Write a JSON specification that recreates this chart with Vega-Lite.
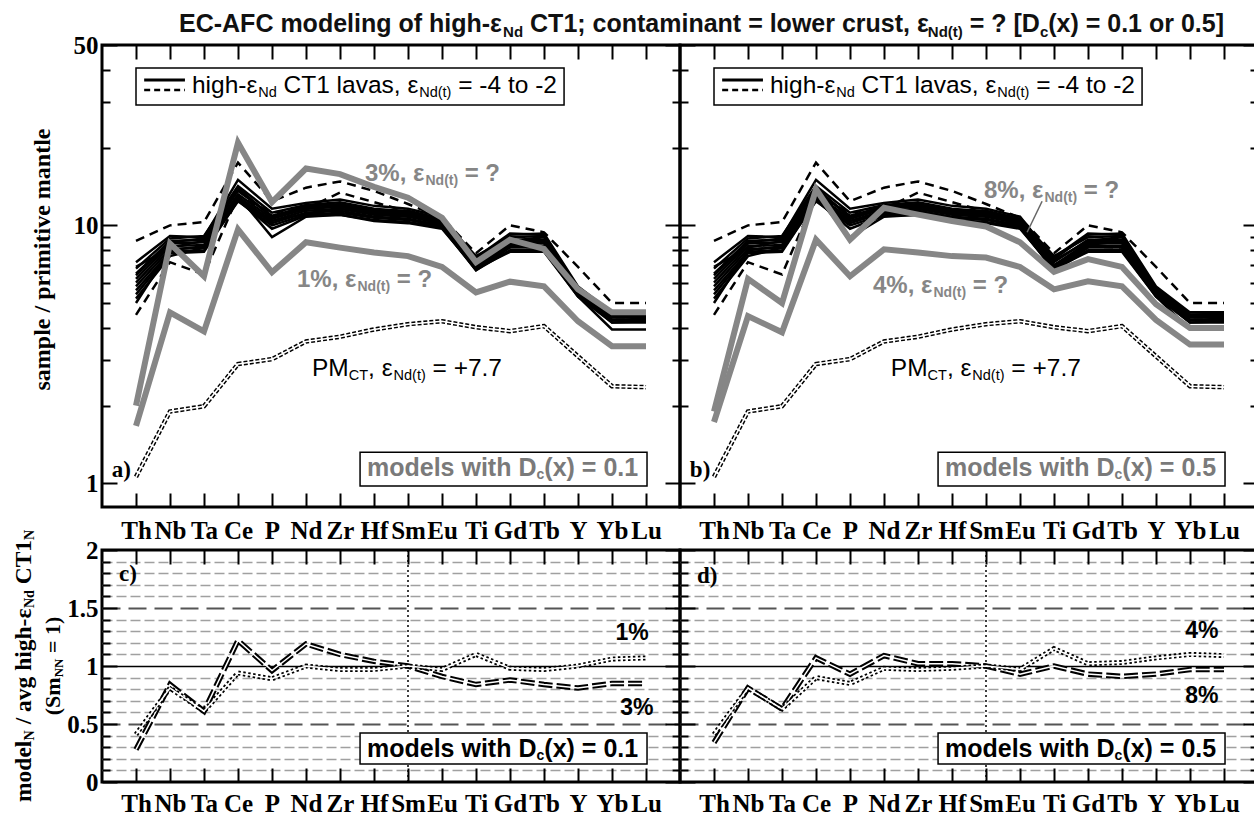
{
"$schema": "https://vega.github.io/schema/vega-lite/v6.json",
"background": "white",
"padding": {"left": 10, "top": 10, "right": 0, "bottom": 0},
"bounds": "flush",
"columns": 2,
"spacing": {"row": 43, "column": 0},
"datasets": {
"lav": [
{"s":"L1","Th":7.2,"Nb":9.1,"Ta":9.0,"Ce":15.0,"P":11.6,"Nd":12.2,"Zr":12.6,"Hf":11.9,"Sm":11.6,"Eu":10.8,"Ti":7.4,"Gd":9.2,"Tb":9.3,"Y":5.8,"Yb":4.6,"Lu":4.6},
{"s":"L2","Th":6.8,"Nb":8.9,"Ta":9.1,"Ce":14.2,"P":11.2,"Nd":12.0,"Zr":12.3,"Hf":11.6,"Sm":11.3,"Eu":10.6,"Ti":7.6,"Gd":9.0,"Tb":9.1,"Y":5.7,"Yb":4.5,"Lu":4.5},
{"s":"L3","Th":6.5,"Nb":8.7,"Ta":8.8,"Ce":13.6,"P":10.9,"Nd":11.8,"Zr":12.1,"Hf":11.4,"Sm":11.1,"Eu":10.4,"Ti":7.2,"Gd":8.8,"Tb":8.8,"Y":5.6,"Yb":4.4,"Lu":4.45},
{"s":"L4","Th":6.2,"Nb":8.5,"Ta":8.6,"Ce":13.2,"P":10.6,"Nd":11.6,"Zr":11.8,"Hf":11.2,"Sm":11.0,"Eu":10.3,"Ti":7.0,"Gd":8.6,"Tb":8.6,"Y":5.5,"Yb":4.4,"Lu":4.4},
{"s":"L5","Th":6.0,"Nb":8.3,"Ta":8.4,"Ce":12.9,"P":10.4,"Nd":11.4,"Zr":11.6,"Hf":11.0,"Sm":10.8,"Eu":10.2,"Ti":6.9,"Gd":8.5,"Tb":8.5,"Y":5.5,"Yb":4.3,"Lu":4.35},
{"s":"L6","Th":5.8,"Nb":8.1,"Ta":8.2,"Ce":12.6,"P":10.2,"Nd":11.2,"Zr":11.4,"Hf":10.8,"Sm":10.6,"Eu":10.0,"Ti":6.8,"Gd":8.3,"Tb":8.3,"Y":5.4,"Yb":4.3,"Lu":4.3},
{"s":"L7","Th":5.6,"Nb":7.9,"Ta":8.0,"Ce":12.4,"P":10.0,"Nd":11.0,"Zr":11.2,"Hf":10.7,"Sm":10.5,"Eu":9.9,"Ti":6.7,"Gd":8.2,"Tb":8.2,"Y":5.4,"Yb":4.2,"Lu":4.25},
{"s":"L8","Th":5.4,"Nb":7.8,"Ta":7.9,"Ce":12.5,"P":9.7,"Nd":10.9,"Zr":11.0,"Hf":10.5,"Sm":10.3,"Eu":9.8,"Ti":6.7,"Gd":8.0,"Tb":8.0,"Y":5.3,"Yb":4.2,"Lu":4.2},
{"s":"L9","Th":5.2,"Nb":7.6,"Ta":8.2,"Ce":13.0,"P":9.0,"Nd":10.8,"Zr":11.0,"Hf":10.4,"Sm":10.2,"Eu":9.7,"Ti":6.8,"Gd":7.9,"Tb":7.9,"Y":5.3,"Yb":3.95,"Lu":3.95},
{"s":"L10","Th":6.9,"Nb":8.2,"Ta":8.7,"Ce":14.0,"P":10.7,"Nd":11.9,"Zr":12.0,"Hf":11.3,"Sm":11.2,"Eu":10.5,"Ti":7.3,"Gd":8.7,"Tb":9.0,"Y":5.6,"Yb":4.5,"Lu":4.5},
{"s":"L11","Th":5.0,"Nb":8.0,"Ta":8.3,"Ce":12.8,"P":10.4,"Nd":11.1,"Zr":11.6,"Hf":11.1,"Sm":10.9,"Eu":10.1,"Ti":7.0,"Gd":8.4,"Tb":8.7,"Y":5.5,"Yb":4.4,"Lu":4.4},
{"s":"L12","Th":6.4,"Nb":8.6,"Ta":8.9,"Ce":13.8,"P":10.8,"Nd":11.6,"Zr":11.9,"Hf":11.5,"Sm":11.4,"Eu":10.6,"Ti":7.5,"Gd":9.3,"Tb":9.2,"Y":5.7,"Yb":4.5,"Lu":4.55}
],
"dsh": [
{"s":"D1","Th":8.7,"Nb":10.0,"Ta":10.3,"Ce":17.5,"P":12.4,"Nd":14.0,"Zr":14.8,"Hf":13.6,"Sm":12.1,"Eu":10.7,"Ti":7.8,"Gd":10.0,"Tb":9.4,"Y":6.9,"Yb":5.0,"Lu":5.0},
{"s":"D2","Th":4.5,"Nb":7.2,"Ta":6.45,"Ce":13.0,"P":11.2,"Nd":11.6,"Zr":13.4,"Hf":12.3,"Sm":11.3,"Eu":10.2,"Ti":7.0,"Gd":8.3,"Tb":8.2,"Y":5.5,"Yb":4.4,"Lu":4.4}
],
"pm": [
{"s":"PM","Th":1.06,"Nb":1.9,"Ta":1.99,"Ce":2.9,"P":3.03,"Nd":3.55,"Zr":3.7,"Hf":3.95,"Sm":4.14,"Eu":4.25,"Ti":4.03,"Gd":3.89,"Tb":4.07,"Y":3.11,"Yb":2.38,"Lu":2.36}
],
"mod": [
{"s":"G3","Th":2.0,"Nb":8.5,"Ta":6.35,"Ce":20.9,"P":12.3,"Nd":16.6,"Zr":15.8,"Hf":14.1,"Sm":12.8,"Eu":10.7,"Ti":7.2,"Gd":8.8,"Tb":8.1,"Y":5.65,"Yb":4.6,"Lu":4.6},
{"s":"G1","Th":1.67,"Nb":4.6,"Ta":3.88,"Ce":9.65,"P":6.58,"Nd":8.6,"Zr":8.2,"Hf":7.85,"Sm":7.6,"Eu":6.9,"Ti":5.5,"Gd":6.05,"Tb":5.8,"Y":4.25,"Yb":3.4,"Lu":3.4},
{"s":"G8","Th":1.9,"Nb":6.2,"Ta":5.0,"Ce":13.8,"P":8.8,"Nd":11.7,"Zr":11.0,"Hf":10.4,"Sm":9.9,"Eu":8.6,"Ti":6.6,"Gd":7.4,"Tb":6.9,"Y":4.95,"Yb":4.0,"Lu":4.0},
{"s":"G4","Th":1.73,"Nb":4.45,"Ta":3.85,"Ce":8.8,"P":6.35,"Nd":8.07,"Zr":7.85,"Hf":7.6,"Sm":7.5,"Eu":6.9,"Ti":5.65,"Gd":6.07,"Tb":5.8,"Y":4.3,"Yb":3.45,"Lu":3.45}
],
"rat": [
{"s":"C3","Th":0.28,"Nb":0.84,"Ta":0.61,"Ce":1.22,"P":0.96,"Nd":1.19,"Zr":1.10,"Hf":1.04,"Sm":1.0,"Eu":0.91,"Ti":0.84,"Gd":0.88,"Tb":0.84,"Y":0.81,"Yb":0.85,"Lu":0.85},
{"s":"C1","Th":0.41,"Nb":0.81,"Ta":0.61,"Ce":0.94,"P":0.89,"Nd":1.0,"Zr":0.97,"Hf":0.97,"Sm":1.0,"Eu":0.97,"Ti":1.10,"Gd":0.98,"Tb":0.97,"Y":1.0,"Yb":1.06,"Lu":1.07},
{"s":"D8","Th":0.34,"Nb":0.81,"Ta":0.63,"Ce":1.07,"P":0.93,"Nd":1.09,"Zr":1.02,"Hf":1.02,"Sm":1.0,"Eu":0.93,"Ti":1.0,"Gd":0.93,"Tb":0.91,"Y":0.93,"Yb":0.97,"Lu":0.97},
{"s":"D4","Th":0.41,"Nb":0.81,"Ta":0.63,"Ce":0.9,"P":0.85,"Nd":0.98,"Zr":0.97,"Hf":0.98,"Sm":1.0,"Eu":0.97,"Ti":1.15,"Gd":1.02,"Tb":1.03,"Y":1.07,"Yb":1.10,"Lu":1.09}
]
},
"concat": [
{
"width": 578, "height": 462,
"resolve": {"scale": {"x": "independent"}, "axis": {"x": "independent", "y": "independent"}},
"layer": [
{"data": {"values": [{"x":1.0,"x2":13.59,"v":40.7,"v2":29.3},{"x":7.59,"x2":16.03,"v":1.32,"v2":0.977}]},
 "mark": {"type":"rect","fill":"white","stroke":"black","strokeWidth":1.5},
 "encoding": {"x":{"field":"x","type":"quantitative","scale":{"domain":[0,17],"nice":false,"zero":false},"axis":null},"x2":{"field":"x2"},"y":{"field":"v","type":"quantitative","scale":{"type":"log","domain":[0.81,50],"nice":false},"axis":null},"y2":{"field":"v2"}}},
{"data": {"name":"pm"}, "transform": [{"fold":["Th","Nb","Ta","Ce","P","Nd","Zr","Hf","Sm","Eu","Ti","Gd","Tb","Y","Yb","Lu"],"as":["e","v"]}],
 "mark": {"type":"line","stroke":"black","strokeWidth":4.5,"strokeDash":[4,2]},
 "encoding": {"x":{"field":"e","type":"ordinal","scale":{"type":"point","domain":["Th","Nb","Ta","Ce","P","Nd","Zr","Hf","Sm","Eu","Ti","Gd","Tb","Y","Yb","Lu"],"padding":1},"axis":null},"y":{"field":"v","type":"quantitative","scale":{"type":"log","domain":[0.81,50],"nice":false},"axis":null},"order":{"value":null}}},
{"data": {"name":"pm"}, "transform": [{"fold":["Th","Nb","Ta","Ce","P","Nd","Zr","Hf","Sm","Eu","Ti","Gd","Tb","Y","Yb","Lu"],"as":["e","v"]}],
 "mark": {"type":"line","stroke":"white","strokeWidth":1.6},
 "encoding": {"x":{"field":"e","type":"ordinal","scale":{"type":"point","domain":["Th","Nb","Ta","Ce","P","Nd","Zr","Hf","Sm","Eu","Ti","Gd","Tb","Y","Yb","Lu"],"padding":1},"axis":null},"y":{"field":"v","type":"quantitative","scale":{"type":"log","domain":[0.81,50],"nice":false},"axis":null},"order":{"value":null}}},
{"data": {"name":"lav"}, "transform": [{"fold":["Th","Nb","Ta","Ce","P","Nd","Zr","Hf","Sm","Eu","Ti","Gd","Tb","Y","Yb","Lu"],"as":["e","v"]}],
 "mark": {"type":"line","stroke":"black","strokeWidth":2.5},
 "encoding": {"x":{"field":"e","type":"ordinal","scale":{"type":"point","domain":["Th","Nb","Ta","Ce","P","Nd","Zr","Hf","Sm","Eu","Ti","Gd","Tb","Y","Yb","Lu"],"padding":1},"axis":{"orient":"bottom","title":null,"tickSize":-14,"labelFontSize":25,"labelPadding":25,"labelAngle":0}},
  "y":{"field":"v","type":"quantitative","scale":{"type":"log","domain":[0.81,50],"nice":false},"axis":{"orient":"left","title":"sample / primitive mantle","values":[1,2,3,4,5,6,7,8,9,10,20,30,40,50],"tickSize":{"condition":{"test":"datum.value==1||datum.value==10||datum.value==50","value":-15},"value":-8},"labelExpr":"(datum.value==1||datum.value==10||datum.value==50)?''+datum.value:''","labelFontSize":25,"labelPadding":19,"titleFontSize":24,"titleX":-60,"titleY":214,"titleBaseline":"middle"}},
  "detail":{"field":"s"},"order":{"value":null}}},
{"data": {"name":"dsh"}, "transform": [{"fold":["Th","Nb","Ta","Ce","P","Nd","Zr","Hf","Sm","Eu","Ti","Gd","Tb","Y","Yb","Lu"],"as":["e","v"]}],
 "mark": {"type":"line","stroke":"black","strokeWidth":2.5,"strokeDash":[9,6]},
 "encoding": {"x":{"field":"e","type":"ordinal","scale":{"type":"point","domain":["Th","Nb","Ta","Ce","P","Nd","Zr","Hf","Sm","Eu","Ti","Gd","Tb","Y","Yb","Lu"],"padding":1},"axis":null},"y":{"field":"v","type":"quantitative","scale":{"type":"log","domain":[0.81,50],"nice":false},"axis":null},"detail":{"field":"s"},"order":{"value":null}}},
{"data": {"name":"mod"}, "transform": [{"filter":{"field":"s","oneOf":["G3","G1"]}},{"fold":["Th","Nb","Ta","Ce","P","Nd","Zr","Hf","Sm","Eu","Ti","Gd","Tb","Y","Yb","Lu"],"as":["e","v"]}],
 "mark": {"type":"line","stroke":"#868686","strokeWidth":6},
 "encoding": {"x":{"field":"e","type":"ordinal","scale":{"type":"point","domain":["Th","Nb","Ta","Ce","P","Nd","Zr","Hf","Sm","Eu","Ti","Gd","Tb","Y","Yb","Lu"],"padding":1},"axis":{"orient":"top","title":null,"tickSize":-14,"labels":false}},
  "y":{"field":"v","type":"quantitative","scale":{"type":"log","domain":[0.81,50],"nice":false},"axis":{"orient":"right","title":null,"values":[1,2,3,4,5,6,7,8,9,10,20,30,40,50],"tickSize":{"condition":{"test":"datum.value==1||datum.value==10||datum.value==50","value":-15},"value":-8},"labels":false}},
  "detail":{"field":"s"},"order":{"value":null}}},
{"data": {"values": [{"x":1.24,"v":36.6},{"x":2.44,"v":36.6}]},
 "mark": {"type":"line","stroke":"black","strokeWidth":3},
 "encoding": {"x":{"field":"x","type":"quantitative","scale":{"domain":[0,17],"nice":false,"zero":false},"axis":null},"y":{"field":"v","type":"quantitative","scale":{"type":"log","domain":[0.81,50],"nice":false},"axis":null}}},
{"data": {"values": [{"x":1.24,"v":33.5},{"x":2.44,"v":33.5}]},
 "mark": {"type":"line","stroke":"black","strokeWidth":2.5,"strokeDash":[6,4]},
 "encoding": {"x":{"field":"x","type":"quantitative","scale":{"domain":[0,17],"nice":false,"zero":false},"axis":null},"y":{"field":"v","type":"quantitative","scale":{"type":"log","domain":[0.81,50],"nice":false},"axis":null}}},
{"data": {"values": [{"t":"high-ε","x":2.647,"v":34.7},{"t":"CT1 lavas, ε","x":5.338,"v":34.7},{"t":"= -4 to -2","x":10.476,"v":34.7},{"t":"PM","x":6.176,"v":2.77},{"t":", ε","x":7.826,"v":2.77},{"t":"= +7.7","x":9.721,"v":2.77}]},
 "mark": {"type":"text","font":"Liberation Sans","fontSize":24.5,"align":"left","baseline":"middle","color":"black"},
 "encoding": {"x":{"field":"x","type":"quantitative","scale":{"domain":[0,17],"nice":false,"zero":false},"axis":null},"y":{"field":"v","type":"quantitative","scale":{"type":"log","domain":[0.81,50],"nice":false},"axis":null},"text":{"field":"t"}}},
{"data": {"values": [{"t":"Nd","x":4.594,"v":34.7},{"t":"Nd(t)","x":9.329,"v":34.7},{"t":"CT","x":7.257,"v":2.77},{"t":"Nd(t)","x":8.574,"v":2.77}]},
 "mark": {"type":"text","font":"Liberation Sans","fontSize":14.5,"align":"left","baseline":"middle","dy":7,"color":"black"},
 "encoding": {"x":{"field":"x","type":"quantitative","scale":{"domain":[0,17],"nice":false,"zero":false},"axis":null},"y":{"field":"v","type":"quantitative","scale":{"type":"log","domain":[0.81,50],"nice":false},"axis":null},"text":{"field":"t"}}},
{"data": {"values": [{"t":"3%, ε","x":7.735,"v":15.8},{"t":"= ?","x":10.666,"v":15.8},{"t":"1%, ε","x":5.735,"v":6.12},{"t":"= ?","x":8.669,"v":6.12}]},
 "mark": {"type":"text","font":"Liberation Sans","fontWeight":"bold","fontSize":24,"align":"left","baseline":"middle","color":"#868686"},
 "encoding": {"x":{"field":"x","type":"quantitative","scale":{"domain":[0,17],"nice":false,"zero":false},"axis":null},"y":{"field":"v","type":"quantitative","scale":{"type":"log","domain":[0.81,50],"nice":false},"axis":null},"text":{"field":"t"}}},
{"data": {"values": [{"t":"Nd(t)","x":9.515,"v":15.8},{"t":"Nd(t)","x":7.515,"v":6.12}]},
 "mark": {"type":"text","font":"Liberation Sans","fontWeight":"bold","fontSize":14,"align":"left","baseline":"middle","dy":7,"color":"#868686"},
 "encoding": {"x":{"field":"x","type":"quantitative","scale":{"domain":[0,17],"nice":false,"zero":false},"axis":null},"y":{"field":"v","type":"quantitative","scale":{"type":"log","domain":[0.81,50],"nice":false},"axis":null},"text":{"field":"t"}}},
{"data": {"values": [{"t":"models with D","x":7.794,"v":1.15},{"t":"(x) = 0.1","x":13.01,"v":1.15}]},
 "mark": {"type":"text","font":"Liberation Sans","fontWeight":"bold","fontSize":25,"align":"left","baseline":"middle","color":"#7a7a7a"},
 "encoding": {"x":{"field":"x","type":"quantitative","scale":{"domain":[0,17],"nice":false,"zero":false},"axis":null},"y":{"field":"v","type":"quantitative","scale":{"type":"log","domain":[0.81,50],"nice":false},"axis":null},"text":{"field":"t"}}},
{"data": {"values": [{"t":"c","x":12.78,"v":1.15}]},
 "mark": {"type":"text","font":"Liberation Sans","fontWeight":"bold","fontSize":14,"align":"left","baseline":"middle","dy":7,"color":"#7a7a7a"},
 "encoding": {"x":{"field":"x","type":"quantitative","scale":{"domain":[0,17],"nice":false,"zero":false},"axis":null},"y":{"field":"v","type":"quantitative","scale":{"type":"log","domain":[0.81,50],"nice":false},"axis":null},"text":{"field":"t"}}},
{"data": {"values": [{"t":"a)","x":0.29,"v":1.13}]},
 "mark": {"type":"text","font":"Liberation Serif","fontWeight":"bold","fontSize":23,"align":"left","baseline":"middle","color":"black"},
 "encoding": {"x":{"field":"x","type":"quantitative","scale":{"domain":[0,17],"nice":false,"zero":false},"axis":null},"y":{"field":"v","type":"quantitative","scale":{"type":"log","domain":[0.81,50],"nice":false},"axis":null},"text":{"field":"t"}}},
{"data": {"values": [{"t":"EC-AFC modeling of high-ε","x":2.265,"v":60.3},{"t":"CT1; contaminant = lower crust, ε","x":12.59,"v":60.3},{"t":"= ? [D","x":25.52,"v":60.3},{"t":"(x) = 0.1 or 0.5]","x":27.83,"v":60.3}]},
 "mark": {"type":"text","font":"Liberation Sans","fontWeight":"bold","fontSize":25,"align":"left","baseline":"middle","color":"#111"},
 "encoding": {"x":{"field":"x","type":"quantitative","scale":{"domain":[0,17],"nice":false,"zero":false},"axis":null},"y":{"field":"v","type":"quantitative","scale":{"type":"log","domain":[0.81,50],"nice":false},"axis":null},"text":{"field":"t"}}},
{"data": {"values": [{"t":"Nd","x":11.797,"v":60.3},{"t":"Nd(t)","x":24.29,"v":60.3},{"t":"c","x":27.586,"v":60.3}]},
 "mark": {"type":"text","font":"Liberation Sans","fontWeight":"bold","fontSize":15,"align":"left","baseline":"middle","dy":8,"color":"#111"},
 "encoding": {"x":{"field":"x","type":"quantitative","scale":{"domain":[0,17],"nice":false,"zero":false},"axis":null},"y":{"field":"v","type":"quantitative","scale":{"type":"log","domain":[0.81,50],"nice":false},"axis":null},"text":{"field":"t"}}}
]
},
{
"width": 578, "height": 462,
"resolve": {"scale": {"x": "independent"}, "axis": {"x": "independent", "y": "independent"}},
"layer": [
{"data": {"values": [{"x":1.0,"x2":13.59,"v":40.7,"v2":29.3},{"x":7.59,"x2":16.03,"v":1.32,"v2":0.977}]},
 "mark": {"type":"rect","fill":"white","stroke":"black","strokeWidth":1.5},
 "encoding": {"x":{"field":"x","type":"quantitative","scale":{"domain":[0,17],"nice":false,"zero":false},"axis":null},"x2":{"field":"x2"},"y":{"field":"v","type":"quantitative","scale":{"type":"log","domain":[0.81,50],"nice":false},"axis":null},"y2":{"field":"v2"}}},
{"data": {"name":"pm"}, "transform": [{"fold":["Th","Nb","Ta","Ce","P","Nd","Zr","Hf","Sm","Eu","Ti","Gd","Tb","Y","Yb","Lu"],"as":["e","v"]}],
 "mark": {"type":"line","stroke":"black","strokeWidth":4.5,"strokeDash":[4,2]},
 "encoding": {"x":{"field":"e","type":"ordinal","scale":{"type":"point","domain":["Th","Nb","Ta","Ce","P","Nd","Zr","Hf","Sm","Eu","Ti","Gd","Tb","Y","Yb","Lu"],"padding":1},"axis":null},"y":{"field":"v","type":"quantitative","scale":{"type":"log","domain":[0.81,50],"nice":false},"axis":null},"order":{"value":null}}},
{"data": {"name":"pm"}, "transform": [{"fold":["Th","Nb","Ta","Ce","P","Nd","Zr","Hf","Sm","Eu","Ti","Gd","Tb","Y","Yb","Lu"],"as":["e","v"]}],
 "mark": {"type":"line","stroke":"white","strokeWidth":1.6},
 "encoding": {"x":{"field":"e","type":"ordinal","scale":{"type":"point","domain":["Th","Nb","Ta","Ce","P","Nd","Zr","Hf","Sm","Eu","Ti","Gd","Tb","Y","Yb","Lu"],"padding":1},"axis":null},"y":{"field":"v","type":"quantitative","scale":{"type":"log","domain":[0.81,50],"nice":false},"axis":null},"order":{"value":null}}},
{"data": {"name":"lav"}, "transform": [{"fold":["Th","Nb","Ta","Ce","P","Nd","Zr","Hf","Sm","Eu","Ti","Gd","Tb","Y","Yb","Lu"],"as":["e","v"]}],
 "mark": {"type":"line","stroke":"black","strokeWidth":2.5},
 "encoding": {"x":{"field":"e","type":"ordinal","scale":{"type":"point","domain":["Th","Nb","Ta","Ce","P","Nd","Zr","Hf","Sm","Eu","Ti","Gd","Tb","Y","Yb","Lu"],"padding":1},"axis":{"orient":"bottom","title":null,"tickSize":-14,"labelFontSize":25,"labelPadding":25,"labelAngle":0}},
  "y":{"field":"v","type":"quantitative","scale":{"type":"log","domain":[0.81,50],"nice":false},"axis":{"orient":"left","title":null,"values":[1,2,3,4,5,6,7,8,9,10,20,30,40,50],"tickSize":{"condition":{"test":"datum.value==1||datum.value==10||datum.value==50","value":-15},"value":-8},"labels":false}},
  "detail":{"field":"s"},"order":{"value":null}}},
{"data": {"name":"dsh"}, "transform": [{"fold":["Th","Nb","Ta","Ce","P","Nd","Zr","Hf","Sm","Eu","Ti","Gd","Tb","Y","Yb","Lu"],"as":["e","v"]}],
 "mark": {"type":"line","stroke":"black","strokeWidth":2.5,"strokeDash":[9,6]},
 "encoding": {"x":{"field":"e","type":"ordinal","scale":{"type":"point","domain":["Th","Nb","Ta","Ce","P","Nd","Zr","Hf","Sm","Eu","Ti","Gd","Tb","Y","Yb","Lu"],"padding":1},"axis":null},"y":{"field":"v","type":"quantitative","scale":{"type":"log","domain":[0.81,50],"nice":false},"axis":null},"detail":{"field":"s"},"order":{"value":null}}},
{"data": {"name":"mod"}, "transform": [{"filter":{"field":"s","oneOf":["G8","G4"]}},{"fold":["Th","Nb","Ta","Ce","P","Nd","Zr","Hf","Sm","Eu","Ti","Gd","Tb","Y","Yb","Lu"],"as":["e","v"]}],
 "mark": {"type":"line","stroke":"#868686","strokeWidth":6},
 "encoding": {"x":{"field":"e","type":"ordinal","scale":{"type":"point","domain":["Th","Nb","Ta","Ce","P","Nd","Zr","Hf","Sm","Eu","Ti","Gd","Tb","Y","Yb","Lu"],"padding":1},"axis":{"orient":"top","title":null,"tickSize":-14,"labels":false}},
  "y":{"field":"v","type":"quantitative","scale":{"type":"log","domain":[0.81,50],"nice":false},"axis":{"orient":"right","title":null,"values":[1,2,3,4,5,6,7,8,9,10,20,30,40,50],"tickSize":{"condition":{"test":"datum.value==1||datum.value==10||datum.value==50","value":-15},"value":-8},"labels":false}},
  "detail":{"field":"s"},"order":{"value":null}}},
{"data": {"values": [{"x":10.65,"v":12.4},{"x":10.21,"v":9.4}]},
 "mark": {"type":"line","stroke":"#666","strokeWidth":1.5},
 "encoding": {"x":{"field":"x","type":"quantitative","scale":{"domain":[0,17],"nice":false,"zero":false},"axis":null},"y":{"field":"v","type":"quantitative","scale":{"type":"log","domain":[0.81,50],"nice":false},"axis":null}}},
{"data": {"values": [{"x":1.24,"v":36.6},{"x":2.44,"v":36.6}]},
 "mark": {"type":"line","stroke":"black","strokeWidth":3},
 "encoding": {"x":{"field":"x","type":"quantitative","scale":{"domain":[0,17],"nice":false,"zero":false},"axis":null},"y":{"field":"v","type":"quantitative","scale":{"type":"log","domain":[0.81,50],"nice":false},"axis":null}}},
{"data": {"values": [{"x":1.24,"v":33.5},{"x":2.44,"v":33.5}]},
 "mark": {"type":"line","stroke":"black","strokeWidth":2.5,"strokeDash":[6,4]},
 "encoding": {"x":{"field":"x","type":"quantitative","scale":{"domain":[0,17],"nice":false,"zero":false},"axis":null},"y":{"field":"v","type":"quantitative","scale":{"type":"log","domain":[0.81,50],"nice":false},"axis":null}}},
{"data": {"values": [{"t":"high-ε","x":2.647,"v":34.7},{"t":"CT1 lavas, ε","x":5.338,"v":34.7},{"t":"= -4 to -2","x":10.476,"v":34.7},{"t":"PM","x":6.2,"v":2.77},{"t":", ε","x":7.85,"v":2.77},{"t":"= +7.7","x":9.745,"v":2.77}]},
 "mark": {"type":"text","font":"Liberation Sans","fontSize":24.5,"align":"left","baseline":"middle","color":"black"},
 "encoding": {"x":{"field":"x","type":"quantitative","scale":{"domain":[0,17],"nice":false,"zero":false},"axis":null},"y":{"field":"v","type":"quantitative","scale":{"type":"log","domain":[0.81,50],"nice":false},"axis":null},"text":{"field":"t"}}},
{"data": {"values": [{"t":"Nd","x":4.594,"v":34.7},{"t":"Nd(t)","x":9.329,"v":34.7},{"t":"CT","x":7.281,"v":2.77},{"t":"Nd(t)","x":8.598,"v":2.77}]},
 "mark": {"type":"text","font":"Liberation Sans","fontSize":14.5,"align":"left","baseline":"middle","dy":7,"color":"black"},
 "encoding": {"x":{"field":"x","type":"quantitative","scale":{"domain":[0,17],"nice":false,"zero":false},"axis":null},"y":{"field":"v","type":"quantitative","scale":{"type":"log","domain":[0.81,50],"nice":false},"axis":null},"text":{"field":"t"}}},
{"data": {"values": [{"t":"8%, ε","x":8.94,"v":13.6},{"t":"= ?","x":11.876,"v":13.6},{"t":"4%, ε","x":5.676,"v":5.8},{"t":"= ?","x":8.611,"v":5.8}]},
 "mark": {"type":"text","font":"Liberation Sans","fontWeight":"bold","fontSize":24,"align":"left","baseline":"middle","color":"#868686"},
 "encoding": {"x":{"field":"x","type":"quantitative","scale":{"domain":[0,17],"nice":false,"zero":false},"axis":null},"y":{"field":"v","type":"quantitative","scale":{"type":"log","domain":[0.81,50],"nice":false},"axis":null},"text":{"field":"t"}}},
{"data": {"values": [{"t":"Nd(t)","x":10.72,"v":13.6},{"t":"Nd(t)","x":7.456,"v":5.8}]},
 "mark": {"type":"text","font":"Liberation Sans","fontWeight":"bold","fontSize":14,"align":"left","baseline":"middle","dy":7,"color":"#868686"},
 "encoding": {"x":{"field":"x","type":"quantitative","scale":{"domain":[0,17],"nice":false,"zero":false},"axis":null},"y":{"field":"v","type":"quantitative","scale":{"type":"log","domain":[0.81,50],"nice":false},"axis":null},"text":{"field":"t"}}},
{"data": {"values": [{"t":"models with D","x":7.794,"v":1.15},{"t":"(x) = 0.5","x":13.01,"v":1.15}]},
 "mark": {"type":"text","font":"Liberation Sans","fontWeight":"bold","fontSize":25,"align":"left","baseline":"middle","color":"#7a7a7a"},
 "encoding": {"x":{"field":"x","type":"quantitative","scale":{"domain":[0,17],"nice":false,"zero":false},"axis":null},"y":{"field":"v","type":"quantitative","scale":{"type":"log","domain":[0.81,50],"nice":false},"axis":null},"text":{"field":"t"}}},
{"data": {"values": [{"t":"c","x":12.78,"v":1.15}]},
 "mark": {"type":"text","font":"Liberation Sans","fontWeight":"bold","fontSize":14,"align":"left","baseline":"middle","dy":7,"color":"#7a7a7a"},
 "encoding": {"x":{"field":"x","type":"quantitative","scale":{"domain":[0,17],"nice":false,"zero":false},"axis":null},"y":{"field":"v","type":"quantitative","scale":{"type":"log","domain":[0.81,50],"nice":false},"axis":null},"text":{"field":"t"}}},
{"data": {"values": [{"t":"b)","x":0.29,"v":1.13}]},
 "mark": {"type":"text","font":"Liberation Serif","fontWeight":"bold","fontSize":23,"align":"left","baseline":"middle","color":"black"},
 "encoding": {"x":{"field":"x","type":"quantitative","scale":{"domain":[0,17],"nice":false,"zero":false},"axis":null},"y":{"field":"v","type":"quantitative","scale":{"type":"log","domain":[0.81,50],"nice":false},"axis":null},"text":{"field":"t"}}}
]
},
{
"width": 578, "height": 232,
"resolve": {"scale": {"x": "independent"}, "axis": {"x": "independent", "y": "independent"}},
"layer": [
{"data": {"values": [{"e":"Sm"}]},
 "mark": {"type":"rule","stroke":"black","strokeWidth":1.5,"strokeDash":[2,3]},
 "encoding": {"x":{"field":"e","type":"ordinal","scale":{"type":"point","domain":["Th","Nb","Ta","Ce","P","Nd","Zr","Hf","Sm","Eu","Ti","Gd","Tb","Y","Yb","Lu"],"padding":1},"axis":null}}},
{"data": {"name":"rat"}, "transform": [{"filter":{"field":"s","equal":"C3"}},{"fold":["Th","Nb","Ta","Ce","P","Nd","Zr","Hf","Sm","Eu","Ti","Gd","Tb","Y","Yb","Lu"],"as":["e","v"]}],
 "mark": {"type":"line","stroke":"black","strokeWidth":5.5,"strokeDash":[14,4]},
 "encoding": {"x":{"field":"e","type":"ordinal","scale":{"type":"point","domain":["Th","Nb","Ta","Ce","P","Nd","Zr","Hf","Sm","Eu","Ti","Gd","Tb","Y","Yb","Lu"],"padding":1},"axis":{"orient":"bottom","title":null,"tickSize":-14,"labelFontSize":25,"labelPadding":23,"labelAngle":0}},
  "y":{"field":"v","type":"quantitative","scale":{"domain":[0,2],"nice":false,"zero":false},"axis":{"orient":"left","title":null,"values":[0,0.1,0.2,0.3,0.4,0.5,0.6,0.7,0.8,0.9,1,1.1,1.2,1.3,1.4,1.5,1.6,1.7,1.8,1.9,2],"tickSize":{"condition":{"test":"datum.value==0||datum.value==0.5||datum.value==1||datum.value==1.5||datum.value==2","value":-15},"value":-8},"labelExpr":"(datum.value==0||datum.value==0.5||datum.value==1||datum.value==1.5||datum.value==2)?''+datum.value:''","labelFontSize":25,"labelPadding":19,
   "grid":true,
   "gridColor":{"condition":[{"test":"datum.value==1","value":"black"},{"test":"datum.value==0.5||datum.value==1.5","value":"#555555"}],"value":"#a0a0a0"},
   "gridDash":{"condition":[{"test":"datum.value==1","value":[1,0]},{"test":"datum.value==0.5||datum.value==1.5","value":[18,8]}],"value":[10,4]},
   "gridWidth":{"condition":[{"test":"datum.value==1","value":1.3},{"test":"datum.value==0.5||datum.value==1.5","value":2}],"value":1.5},
   "gridOpacity":{"condition":{"test":"datum.value==0||datum.value==2","value":0},"value":1}}},
  "order":{"value":null}}},
{"data": {"name":"rat"}, "transform": [{"filter":{"field":"s","equal":"C3"}},{"fold":["Th","Nb","Ta","Ce","P","Nd","Zr","Hf","Sm","Eu","Ti","Gd","Tb","Y","Yb","Lu"],"as":["e","v"]}],
 "mark": {"type":"line","stroke":"white","strokeWidth":1.5},
 "encoding": {"x":{"field":"e","type":"ordinal","scale":{"type":"point","domain":["Th","Nb","Ta","Ce","P","Nd","Zr","Hf","Sm","Eu","Ti","Gd","Tb","Y","Yb","Lu"],"padding":1},"axis":null},"y":{"field":"v","type":"quantitative","scale":{"domain":[0,2],"nice":false,"zero":false},"axis":null},"order":{"value":null}}},
{"data": {"name":"rat"}, "transform": [{"filter":{"field":"s","equal":"C1"}},{"fold":["Th","Nb","Ta","Ce","P","Nd","Zr","Hf","Sm","Eu","Ti","Gd","Tb","Y","Yb","Lu"],"as":["e","v"]}],
 "mark": {"type":"line","stroke":"black","strokeWidth":5,"strokeDash":[2.5,2.5]},
 "encoding": {"x":{"field":"e","type":"ordinal","scale":{"type":"point","domain":["Th","Nb","Ta","Ce","P","Nd","Zr","Hf","Sm","Eu","Ti","Gd","Tb","Y","Yb","Lu"],"padding":1},"axis":{"orient":"top","title":null,"tickSize":-14,"labels":false}},
  "y":{"field":"v","type":"quantitative","scale":{"domain":[0,2],"nice":false,"zero":false},"axis":{"orient":"right","title":null,"values":[0,0.1,0.2,0.3,0.4,0.5,0.6,0.7,0.8,0.9,1,1.1,1.2,1.3,1.4,1.5,1.6,1.7,1.8,1.9,2],"tickSize":{"condition":{"test":"datum.value==0||datum.value==0.5||datum.value==1||datum.value==1.5||datum.value==2","value":-15},"value":-8},"labels":false}},
  "order":{"value":null}}},
{"data": {"name":"rat"}, "transform": [{"filter":{"field":"s","equal":"C1"}},{"fold":["Th","Nb","Ta","Ce","P","Nd","Zr","Hf","Sm","Eu","Ti","Gd","Tb","Y","Yb","Lu"],"as":["e","v"]}],
 "mark": {"type":"line","stroke":"white","strokeWidth":1.5},
 "encoding": {"x":{"field":"e","type":"ordinal","scale":{"type":"point","domain":["Th","Nb","Ta","Ce","P","Nd","Zr","Hf","Sm","Eu","Ti","Gd","Tb","Y","Yb","Lu"],"padding":1},"axis":null},"y":{"field":"v","type":"quantitative","scale":{"domain":[0,2],"nice":false,"zero":false},"axis":null},"order":{"value":null}}},
{"data": {"values": [{"x":7.59,"x2":16.03,"v":0.422,"v2":0.155}]},
 "mark": {"type":"rect","fill":"white","stroke":"black","strokeWidth":1.5},
 "encoding": {"x":{"field":"x","type":"quantitative","scale":{"domain":[0,17],"nice":false,"zero":false},"axis":null},"x2":{"field":"x2"},"y":{"field":"v","type":"quantitative","scale":{"domain":[0,2],"nice":false,"zero":false},"axis":null},"y2":{"field":"v2"}}},
{"data": {"values": [{"t":"models with D","x":7.794,"v":0.284},{"t":"(x) = 0.1","x":13.01,"v":0.284}]},
 "mark": {"type":"text","font":"Liberation Sans","fontWeight":"bold","fontSize":25,"align":"left","baseline":"middle","color":"black"},
 "encoding": {"x":{"field":"x","type":"quantitative","scale":{"domain":[0,17],"nice":false,"zero":false},"axis":null},"y":{"field":"v","type":"quantitative","scale":{"domain":[0,2],"nice":false,"zero":false},"axis":null},"text":{"field":"t"}}},
{"data": {"values": [{"t":"c","x":12.78,"v":0.284}]},
 "mark": {"type":"text","font":"Liberation Sans","fontWeight":"bold","fontSize":14,"align":"left","baseline":"middle","dy":7,"color":"black"},
 "encoding": {"x":{"field":"x","type":"quantitative","scale":{"domain":[0,17],"nice":false,"zero":false},"axis":null},"y":{"field":"v","type":"quantitative","scale":{"domain":[0,2],"nice":false,"zero":false},"axis":null},"text":{"field":"t"}}},
{"data": {"values": [{"t":"1%","x":15.59,"v":1.284},{"t":"3%","x":15.73,"v":0.638}]},
 "mark": {"type":"text","font":"Liberation Sans","fontWeight":"bold","fontSize":23,"align":"center","baseline":"middle","color":"black"},
 "encoding": {"x":{"field":"x","type":"quantitative","scale":{"domain":[0,17],"nice":false,"zero":false},"axis":null},"y":{"field":"v","type":"quantitative","scale":{"domain":[0,2],"nice":false,"zero":false},"axis":null},"text":{"field":"t"}}},
{"data": {"values": [{"t":"c)","x":0.5,"v":1.79}]},
 "mark": {"type":"text","font":"Liberation Serif","fontWeight":"bold","fontSize":23,"align":"left","baseline":"middle","color":"black"},
 "encoding": {"x":{"field":"x","type":"quantitative","scale":{"domain":[0,17],"nice":false,"zero":false},"axis":null},"y":{"field":"v","type":"quantitative","scale":{"domain":[0,2],"nice":false,"zero":false},"axis":null},"text":{"field":"t"}}},
{"data": {"values": [{"t":"model","x":-2.294,"v":-0.172},{"t":"/ avg high-ε","x":-2.294,"v":0.497},{"t":"CT1","x":-2.294,"v":1.704}]},
 "mark": {"type":"text","font":"Liberation Serif","fontWeight":"bold","fontSize":23.5,"align":"left","baseline":"middle","angle":270,"color":"black"},
 "encoding": {"x":{"field":"x","type":"quantitative","scale":{"domain":[0,17],"nice":false,"zero":false},"axis":null},"y":{"field":"v","type":"quantitative","scale":{"domain":[0,2],"nice":false,"zero":false},"axis":null},"text":{"field":"t"}}},
{"data": {"values": [{"t":"N","x":-2.294,"v":0.357},{"t":"Nd","x":-2.294,"v":1.499},{"t":"N","x":-2.294,"v":2.087}]},
 "mark": {"type":"text","font":"Liberation Serif","fontWeight":"bold","fontSize":14,"align":"left","baseline":"middle","angle":270,"dy":6,"color":"black"},
 "encoding": {"x":{"field":"x","type":"quantitative","scale":{"domain":[0,17],"nice":false,"zero":false},"axis":null},"y":{"field":"v","type":"quantitative","scale":{"domain":[0,2],"nice":false,"zero":false},"axis":null},"text":{"field":"t"}}},
{"data": {"values": [{"t":"(Sm","x":-1.441,"v":0.575},{"t":"= 1)","x":-1.441,"v":1.111}]},
 "mark": {"type":"text","font":"Liberation Serif","fontWeight":"bold","fontSize":22,"align":"left","baseline":"middle","angle":270,"color":"black"},
 "encoding": {"x":{"field":"x","type":"quantitative","scale":{"domain":[0,17],"nice":false,"zero":false},"axis":null},"y":{"field":"v","type":"quantitative","scale":{"domain":[0,2],"nice":false,"zero":false},"axis":null},"text":{"field":"t"}}},
{"data": {"values": [{"t":"NN","x":-1.441,"v":0.902}]},
 "mark": {"type":"text","font":"Liberation Serif","fontWeight":"bold","fontSize":13,"align":"left","baseline":"middle","angle":270,"dy":6,"color":"black"},
 "encoding": {"x":{"field":"x","type":"quantitative","scale":{"domain":[0,17],"nice":false,"zero":false},"axis":null},"y":{"field":"v","type":"quantitative","scale":{"domain":[0,2],"nice":false,"zero":false},"axis":null},"text":{"field":"t"}}}
]
},
{
"width": 578, "height": 232,
"resolve": {"scale": {"x": "independent"}, "axis": {"x": "independent", "y": "independent"}},
"layer": [
{"data": {"values": [{"e":"Sm"}]},
 "mark": {"type":"rule","stroke":"black","strokeWidth":1.5,"strokeDash":[2,3]},
 "encoding": {"x":{"field":"e","type":"ordinal","scale":{"type":"point","domain":["Th","Nb","Ta","Ce","P","Nd","Zr","Hf","Sm","Eu","Ti","Gd","Tb","Y","Yb","Lu"],"padding":1},"axis":null}}},
{"data": {"name":"rat"}, "transform": [{"filter":{"field":"s","equal":"D8"}},{"fold":["Th","Nb","Ta","Ce","P","Nd","Zr","Hf","Sm","Eu","Ti","Gd","Tb","Y","Yb","Lu"],"as":["e","v"]}],
 "mark": {"type":"line","stroke":"black","strokeWidth":5.5,"strokeDash":[14,4]},
 "encoding": {"x":{"field":"e","type":"ordinal","scale":{"type":"point","domain":["Th","Nb","Ta","Ce","P","Nd","Zr","Hf","Sm","Eu","Ti","Gd","Tb","Y","Yb","Lu"],"padding":1},"axis":{"orient":"bottom","title":null,"tickSize":-14,"labelFontSize":25,"labelPadding":23,"labelAngle":0}},
  "y":{"field":"v","type":"quantitative","scale":{"domain":[0,2],"nice":false,"zero":false},"axis":{"orient":"left","title":null,"values":[0,0.1,0.2,0.3,0.4,0.5,0.6,0.7,0.8,0.9,1,1.1,1.2,1.3,1.4,1.5,1.6,1.7,1.8,1.9,2],"tickSize":{"condition":{"test":"datum.value==0||datum.value==0.5||datum.value==1||datum.value==1.5||datum.value==2","value":-15},"value":-8},"labels":false,
   "grid":true,
   "gridColor":{"condition":[{"test":"datum.value==1","value":"black"},{"test":"datum.value==0.5||datum.value==1.5","value":"#555555"}],"value":"#a0a0a0"},
   "gridDash":{"condition":[{"test":"datum.value==1","value":[1,0]},{"test":"datum.value==0.5||datum.value==1.5","value":[18,8]}],"value":[10,4]},
   "gridWidth":{"condition":[{"test":"datum.value==1","value":1.3},{"test":"datum.value==0.5||datum.value==1.5","value":2}],"value":1.5},
   "gridOpacity":{"condition":{"test":"datum.value==0||datum.value==2","value":0},"value":1}}},
  "order":{"value":null}}},
{"data": {"name":"rat"}, "transform": [{"filter":{"field":"s","equal":"D8"}},{"fold":["Th","Nb","Ta","Ce","P","Nd","Zr","Hf","Sm","Eu","Ti","Gd","Tb","Y","Yb","Lu"],"as":["e","v"]}],
 "mark": {"type":"line","stroke":"white","strokeWidth":1.5},
 "encoding": {"x":{"field":"e","type":"ordinal","scale":{"type":"point","domain":["Th","Nb","Ta","Ce","P","Nd","Zr","Hf","Sm","Eu","Ti","Gd","Tb","Y","Yb","Lu"],"padding":1},"axis":null},"y":{"field":"v","type":"quantitative","scale":{"domain":[0,2],"nice":false,"zero":false},"axis":null},"order":{"value":null}}},
{"data": {"name":"rat"}, "transform": [{"filter":{"field":"s","equal":"D4"}},{"fold":["Th","Nb","Ta","Ce","P","Nd","Zr","Hf","Sm","Eu","Ti","Gd","Tb","Y","Yb","Lu"],"as":["e","v"]}],
 "mark": {"type":"line","stroke":"black","strokeWidth":5,"strokeDash":[2.5,2.5]},
 "encoding": {"x":{"field":"e","type":"ordinal","scale":{"type":"point","domain":["Th","Nb","Ta","Ce","P","Nd","Zr","Hf","Sm","Eu","Ti","Gd","Tb","Y","Yb","Lu"],"padding":1},"axis":{"orient":"top","title":null,"tickSize":-14,"labels":false}},
  "y":{"field":"v","type":"quantitative","scale":{"domain":[0,2],"nice":false,"zero":false},"axis":{"orient":"right","title":null,"values":[0,0.1,0.2,0.3,0.4,0.5,0.6,0.7,0.8,0.9,1,1.1,1.2,1.3,1.4,1.5,1.6,1.7,1.8,1.9,2],"tickSize":{"condition":{"test":"datum.value==0||datum.value==0.5||datum.value==1||datum.value==1.5||datum.value==2","value":-15},"value":-8},"labels":false}},
  "order":{"value":null}}},
{"data": {"name":"rat"}, "transform": [{"filter":{"field":"s","equal":"D4"}},{"fold":["Th","Nb","Ta","Ce","P","Nd","Zr","Hf","Sm","Eu","Ti","Gd","Tb","Y","Yb","Lu"],"as":["e","v"]}],
 "mark": {"type":"line","stroke":"white","strokeWidth":1.5},
 "encoding": {"x":{"field":"e","type":"ordinal","scale":{"type":"point","domain":["Th","Nb","Ta","Ce","P","Nd","Zr","Hf","Sm","Eu","Ti","Gd","Tb","Y","Yb","Lu"],"padding":1},"axis":null},"y":{"field":"v","type":"quantitative","scale":{"domain":[0,2],"nice":false,"zero":false},"axis":null},"order":{"value":null}}},
{"data": {"values": [{"x":7.59,"x2":16.03,"v":0.422,"v2":0.155}]},
 "mark": {"type":"rect","fill":"white","stroke":"black","strokeWidth":1.5},
 "encoding": {"x":{"field":"x","type":"quantitative","scale":{"domain":[0,17],"nice":false,"zero":false},"axis":null},"x2":{"field":"x2"},"y":{"field":"v","type":"quantitative","scale":{"domain":[0,2],"nice":false,"zero":false},"axis":null},"y2":{"field":"v2"}}},
{"data": {"values": [{"t":"models with D","x":7.794,"v":0.284},{"t":"(x) = 0.5","x":13.01,"v":0.284}]},
 "mark": {"type":"text","font":"Liberation Sans","fontWeight":"bold","fontSize":25,"align":"left","baseline":"middle","color":"black"},
 "encoding": {"x":{"field":"x","type":"quantitative","scale":{"domain":[0,17],"nice":false,"zero":false},"axis":null},"y":{"field":"v","type":"quantitative","scale":{"domain":[0,2],"nice":false,"zero":false},"axis":null},"text":{"field":"t"}}},
{"data": {"values": [{"t":"c","x":12.78,"v":0.284}]},
 "mark": {"type":"text","font":"Liberation Sans","fontWeight":"bold","fontSize":14,"align":"left","baseline":"middle","dy":7,"color":"black"},
 "encoding": {"x":{"field":"x","type":"quantitative","scale":{"domain":[0,17],"nice":false,"zero":false},"axis":null},"y":{"field":"v","type":"quantitative","scale":{"domain":[0,2],"nice":false,"zero":false},"axis":null},"text":{"field":"t"}}},
{"data": {"values": [{"t":"4%","x":15.35,"v":1.3},{"t":"8%","x":15.35,"v":0.74}]},
 "mark": {"type":"text","font":"Liberation Sans","fontWeight":"bold","fontSize":23,"align":"center","baseline":"middle","color":"black"},
 "encoding": {"x":{"field":"x","type":"quantitative","scale":{"domain":[0,17],"nice":false,"zero":false},"axis":null},"y":{"field":"v","type":"quantitative","scale":{"domain":[0,2],"nice":false,"zero":false},"axis":null},"text":{"field":"t"}}},
{"data": {"values": [{"t":"d)","x":0.5,"v":1.78}]},
 "mark": {"type":"text","font":"Liberation Serif","fontWeight":"bold","fontSize":23,"align":"left","baseline":"middle","color":"black"},
 "encoding": {"x":{"field":"x","type":"quantitative","scale":{"domain":[0,17],"nice":false,"zero":false},"axis":null},"y":{"field":"v","type":"quantitative","scale":{"domain":[0,2],"nice":false,"zero":false},"axis":null},"text":{"field":"t"}}}
]
}
],
"config": {
"view": {"stroke": "black", "strokeWidth": 3},
"axis": {"domain": false, "grid": false, "tickColor": "black", "tickWidth": 2, "labelColor": "black", "labelFont": "Liberation Serif", "labelFontWeight": "bold", "labelOverlap": false, "labelFlush": false, "labelBound": false, "titleColor": "black", "titleFont": "Liberation Serif", "titleFontWeight": "bold"},
"line": {"strokeJoin": "miter", "strokeMiterLimit": 6}
}
}
